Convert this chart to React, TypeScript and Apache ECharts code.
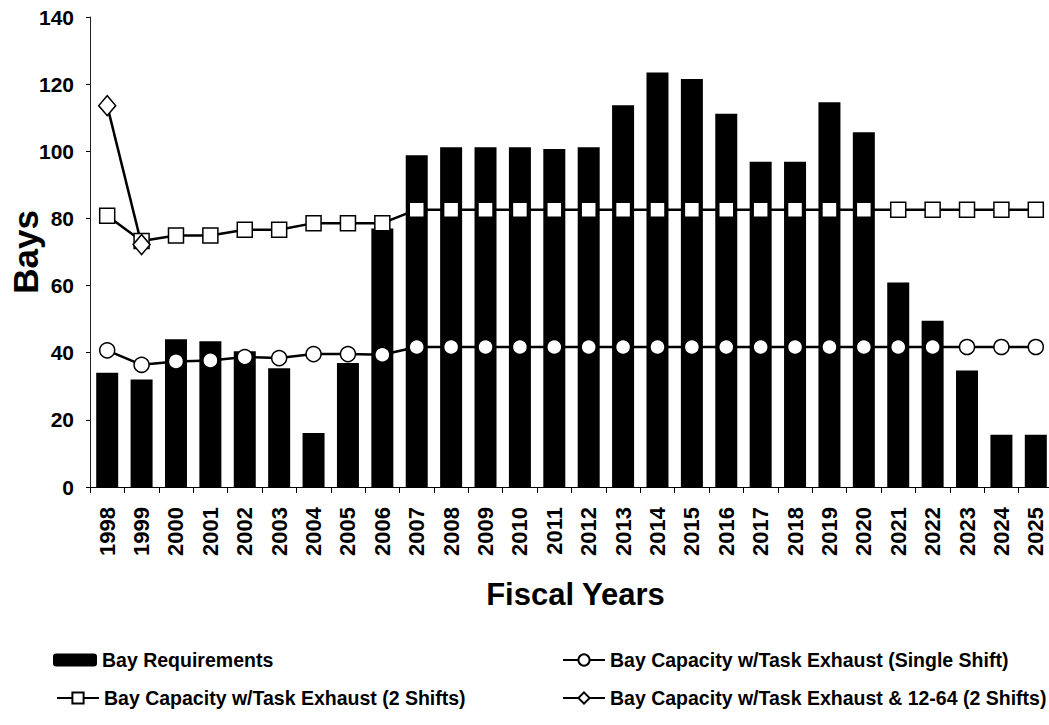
import React, { useEffect, useRef } from "react";
import * as echarts from "echarts";

const years = [
  "1998", "1999", "2000", "2001", "2002", "2003", "2004", "2005", "2006", "2007",
  "2008", "2009", "2010", "2011", "2012", "2013", "2014", "2015", "2016", "2017",
  "2018", "2019", "2020", "2021", "2022", "2023", "2024", "2025",
];

const bayRequirements = [
  34, 32, 44, 43.4, 40.4, 35.4, 16.1, 36.9, 77, 98.8,
  101.2, 101.2, 101.2, 100.7, 101.2, 113.7, 123.5, 121.5, 111.2, 96.9,
  96.9, 114.6, 105.7, 60.9, 49.5, 34.7, 15.6, 15.6,
];

const singleShift = [
  40.7, 36.4, 37.4, 37.7, 38.7, 38.4, 39.6, 39.6, 39.4, 41.7,
  41.7, 41.7, 41.7, 41.7, 41.7, 41.7, 41.7, 41.7, 41.7, 41.7,
  41.7, 41.7, 41.7, 41.7, 41.7, 41.7, 41.7, 41.7,
];

const twoShifts = [
  80.8, 73.3, 74.9, 74.9, 76.6, 76.6, 78.6, 78.6, 78.6, 82.6,
  82.6, 82.6, 82.6, 82.6, 82.6, 82.6, 82.6, 82.6, 82.6, 82.6,
  82.6, 82.6, 82.6, 82.6, 82.6, 82.6, 82.6, 82.6,
];

const with1264 = [113.6, 72.2];

const yTicks = { min: 0, max: 140, interval: 20 };

const NAMES = {
  bars: "Bay Requirements",
  single: "Bay Capacity w/Task Exhaust (Single Shift)",
  two: "Bay Capacity w/Task Exhaust (2 Shifts)",
  diamond: "Bay Capacity w/Task Exhaust & 12-64 (2 Shifts)",
};

const FONT = "'Liberation Sans', Arial, Helvetica, sans-serif";

export default function App() {
  const ref = useRef<HTMLDivElement>(null);

  useEffect(() => {
    document.body.style.margin = "0";
    document.body.style.overflow = "hidden";
    if (!ref.current) return;
    const chart = echarts.init(ref.current, null, { renderer: "svg" });

    const legendText = {
      fontFamily: FONT,
      fontWeight: "bold" as const,
      fontSize: 19.5,
      color: "#000",
    };
    const lineLegend = (name: string, left: number, top: number) => ({
      data: [name],
      left,
      top,
      padding: 0,
      itemWidth: 42,
      itemHeight: 14,
      textStyle: legendText,
      selectedMode: false,
    });

    chart.setOption({
      animation: false,
      backgroundColor: "#fff",
      grid: {
        left: 90,
        top: 17,
        width: 963,
        height: 470,
        containLabel: false,
        outerBoundsMode: "none",
      },
      legend: [
        {
          data: [NAMES.bars],
          left: 53,
          top: 650,
          padding: 0,
          itemWidth: 44,
          itemHeight: 13,
          textStyle: legendText,
          selectedMode: false,
        },
        lineLegend(NAMES.two, 56, 688),
        lineLegend(NAMES.single, 562, 650),
        lineLegend(NAMES.diamond, 562, 688),
      ],
      xAxis: {
        type: "category",
        data: years,
        name: "Fiscal Years",
        nameLocation: "middle",
        nameGap: 92,
        nameMoveOverlap: false,
        nameTextStyle: { fontFamily: FONT, fontWeight: "bold", fontSize: 31, color: "#000", padding: [0, 0, 0, 8] },
        axisLine: { show: true, lineStyle: { color: "#000", width: 1 } },
        axisTick: { show: true, length: 6, lineStyle: { color: "#000" }, interval: 0 },
        axisLabel: {
          interval: 0,
          rotate: 90,
          margin: 20,
          fontFamily: FONT,
          fontWeight: "bold",
          fontSize: 22,
          color: "#000",
        },
      },
      yAxis: {
        type: "value",
        min: yTicks.min,
        max: yTicks.max,
        interval: yTicks.interval,
        name: "Bays",
        nameLocation: "middle",
        nameRotate: 90,
        nameGap: 47,
        nameMoveOverlap: false,
        nameTextStyle: { fontFamily: FONT, fontWeight: "bold", fontSize: 35, color: "#000" },
        axisLine: { show: true, lineStyle: { color: "#222", width: 1 } },
        axisTick: { show: true, length: 4, lineStyle: { color: "#000" } },
        splitLine: { show: false },
        axisLabel: {
          margin: 16,
          fontFamily: FONT,
          fontWeight: "bold",
          fontSize: 21,
          color: "#000",
        },
      },
      series: [
        {
          name: NAMES.bars,
          type: "bar",
          data: bayRequirements,
          barWidth: 22,
          itemStyle: { color: "#000" },
        },
        {
          name: NAMES.single,
          type: "line",
          data: singleShift,
          symbol: "circle",
          symbolSize: 15,
          lineStyle: { color: "#000", width: 2.5 },
          itemStyle: { color: "#fff", borderColor: "#000", borderWidth: 1.5 },
        },
        {
          name: NAMES.two,
          type: "line",
          data: twoShifts,
          symbol: "rect",
          symbolSize: 15,
          lineStyle: { color: "#000", width: 2.5 },
          itemStyle: { color: "#fff", borderColor: "#000", borderWidth: 1.5 },
        },
        {
          name: NAMES.diamond,
          type: "line",
          data: with1264,
          symbol: "diamond",
          symbolSize: [17, 20],
          lineStyle: { color: "#000", width: 2.5 },
          itemStyle: { color: "#fff", borderColor: "#000", borderWidth: 1.5 },
        },
      ],
    });

    return () => chart.dispose();
  }, []);

  return (
    <div
      ref={ref}
      style={{ position: "absolute", left: 0, top: 0, width: 1056, height: 725 }}
    />
  );
}
